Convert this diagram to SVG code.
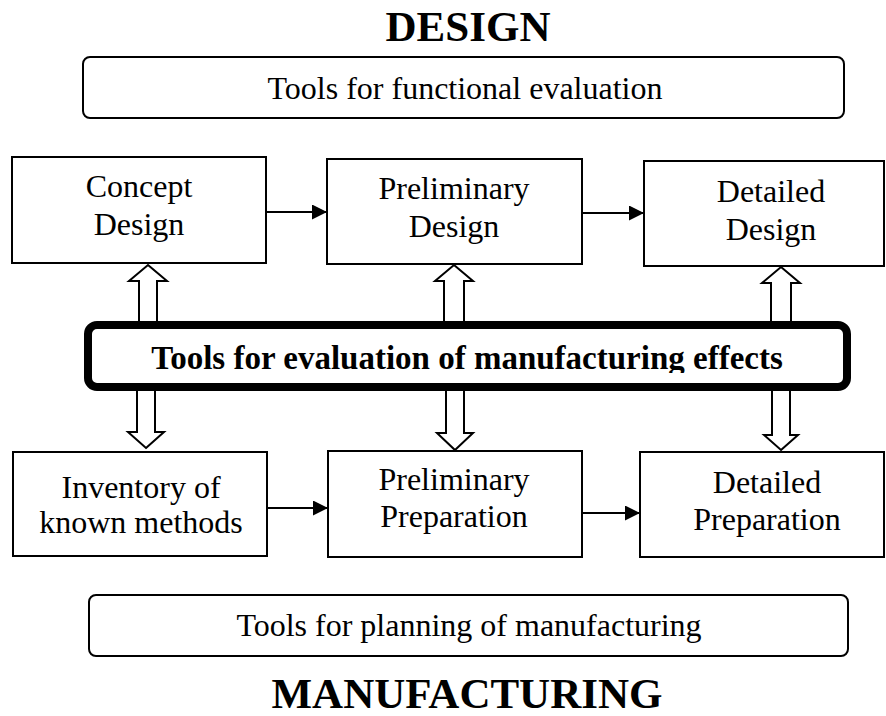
<svg xmlns="http://www.w3.org/2000/svg" width="886" height="716" viewBox="0 0 886 716">
  <style>
    .box { fill: #fff; stroke: #000; stroke-width: 2; }
    .tool { fill: #fff; stroke: #000; stroke-width: 2; }
    .core { fill: #fff; stroke: #000; stroke-width: 8; }
    .lbl { font-family: "Liberation Serif", "Times New Roman", serif; font-size: 32px; fill: #000; text-anchor: middle; }
    .bold { font-weight: bold; font-size: 33px; }
    .title { font-family: "Liberation Serif", "Times New Roman", serif; font-size: 43px; font-weight: bold; fill: #000; text-anchor: middle; }
    .flow { stroke: #000; stroke-width: 2; fill: none; marker-end: url(#head); }
    .hollow { fill: #fff; stroke: #000; stroke-width: 2; stroke-linejoin: miter; }
  </style>
  <defs>
    <marker id="head" viewBox="0 0 15 15" refX="15" refY="7.5" markerWidth="15" markerHeight="15" markerUnits="userSpaceOnUse" orient="auto">
      <path d="M0,0 L15,7.5 L0,15 Z" fill="#000"/>
    </marker>
    <clipPath id="coreClip">
      <rect x="90" y="327" width="755" height="46"/>
    </clipPath>
  </defs>

  <rect width="886" height="716" fill="#fff"/>

  <text class="title" x="468" y="41">DESIGN</text>
  <text class="title" x="467" y="708">MANUFACTURING</text>

  <g id="functional-tools">
    <rect class="tool" x="83" y="57" width="761" height="61" rx="7"/>
    <text class="lbl" x="465" y="99">Tools for functional evaluation</text>
  </g>

  <g id="planning-tools">
    <rect class="tool" x="89" y="595" width="759" height="61" rx="7"/>
    <text class="lbl" x="469" y="636">Tools for planning of manufacturing</text>
  </g>

  <g id="connectors">
    <!-- process flow arrows -->
    <line class="flow" x1="266" y1="212" x2="327" y2="212"/>
    <line class="flow" x1="582" y1="213" x2="644" y2="213"/>
    <line class="flow" x1="267" y1="508" x2="328" y2="508"/>
    <line class="flow" x1="582" y1="513" x2="640" y2="513"/>
    <!-- hollow arrows: evaluation tools up to design stages -->
    <polygon class="hollow" points="148,265 167,281 157,281 157,330 139,330 139,281 129,281"/>
    <polygon class="hollow" points="454,265 473,281 464,281 464,330 444,330 444,281 435,281"/>
    <polygon class="hollow" points="781,267 800,283 791,283 791,330 771,330 771,283 762,283"/>
    <!-- hollow arrows: evaluation tools down to preparation stages -->
    <polygon class="hollow" points="146,448 164,432 155,432 155,382 137,382 137,432 128,432"/>
    <polygon class="hollow" points="455,450 473,433 464,433 464,382 446,382 446,433 437,433"/>
    <polygon class="hollow" points="781,450 798,435 790,435 790,382 772,382 772,435 764,435"/>
  </g>

  <g id="concept-design">
    <rect class="box" x="12" y="157" width="254" height="106"/>
    <text class="lbl" x="139" y="197">Concept</text>
    <text class="lbl" x="139" y="235">Design</text>
  </g>

  <g id="preliminary-design">
    <rect class="box" x="327" y="159" width="255" height="105"/>
    <text class="lbl" x="454" y="199">Preliminary</text>
    <text class="lbl" x="454" y="237">Design</text>
  </g>

  <g id="detailed-design">
    <rect class="box" x="644" y="161" width="240" height="105"/>
    <text class="lbl" x="771" y="202">Detailed</text>
    <text class="lbl" x="771" y="240">Design</text>
  </g>

  <g id="manufacturing-effects">
    <rect class="core" x="88" y="325" width="759" height="62" rx="9"/>
    <text class="lbl bold" x="467" y="369" clip-path="url(#coreClip)">Tools for evaluation of manufacturing effects</text>
  </g>

  <g id="known-methods">
    <rect class="box" x="13" y="452" width="254" height="104"/>
    <text class="lbl" x="141" y="498">Inventory of</text>
    <text class="lbl" x="141" y="533">known methods</text>
  </g>

  <g id="preliminary-preparation">
    <rect class="box" x="328" y="451" width="254" height="106"/>
    <text class="lbl" x="454" y="490">Preliminary</text>
    <text class="lbl" x="454" y="527">Preparation</text>
  </g>

  <g id="detailed-preparation">
    <rect class="box" x="640" y="452" width="244" height="105"/>
    <text class="lbl" x="767" y="493">Detailed</text>
    <text class="lbl" x="767" y="530">Preparation</text>
  </g>
</svg>
